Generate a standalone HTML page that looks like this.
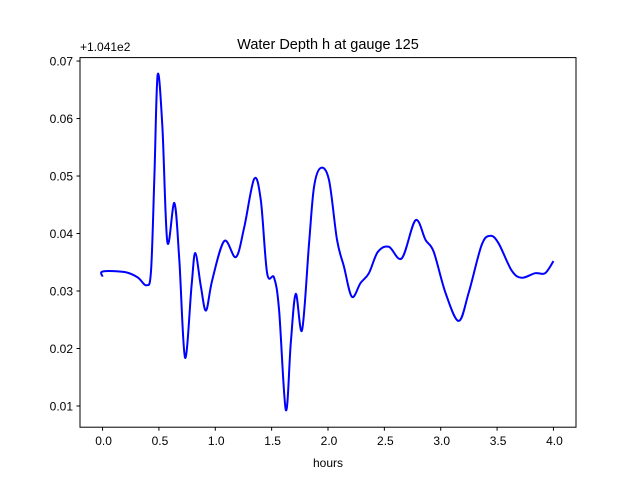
<!DOCTYPE html>
<html><head><meta charset="utf-8"><style>
body{margin:0;background:#fff}
svg{display:block;font-family:"Liberation Sans","DejaVu Sans",sans-serif}
</style></head><body>
<svg id="chart" width="640" height="480" viewBox="0 0 640 480">
<rect width="640" height="480" fill="#fff"/>
<text x="328" y="49" text-anchor="middle" font-size="14.5">Water Depth h at gauge 125</text>
<text x="80" y="51" font-size="12">+1.041e2</text>
<text x="328" y="467" text-anchor="middle" font-size="12">hours</text>
<g id="ticks"></g>
<path id="line" fill="none" stroke="#0000ff" stroke-width="2" stroke-linejoin="round"/>
<rect x="80" y="57.6" width="496" height="369.6" fill="none" stroke="#000" stroke-width="1"/>
</svg>
<script>
const hours=[0,0.002,0.195,0.31,0.39,0.43,0.46,0.489,0.531,0.575,0.637,0.681,0.732,0.79,0.823,0.873,0.918,0.973,1.08,1.183,1.257,1.345,1.404,1.46,1.522,1.566,1.626,1.67,1.714,1.77,1.832,1.876,1.935,2.009,2.08,2.142,2.212,2.289,2.363,2.442,2.54,2.655,2.776,2.865,2.938,3.042,3.159,3.248,3.363,3.44,3.513,3.628,3.717,3.838,3.926,4.0];
const depth=[0.0325,0.0334,0.0333,0.0324,0.0310,0.0335,0.0500,0.0676,0.0585,0.0385,0.0453,0.0354,0.0184,0.0310,0.0366,0.0307,0.0266,0.0319,0.0387,0.0359,0.0411,0.0495,0.0458,0.0331,0.0323,0.0267,0.0093,0.021,0.0295,0.0232,0.0383,0.0481,0.0514,0.0493,0.0389,0.0342,0.029,0.0314,0.0331,0.0368,0.0377,0.0357,0.0423,0.0389,0.0368,0.0297,0.0248,0.0297,0.038,0.0396,0.0383,0.0336,0.0323,0.0331,0.0331,0.0352];
const xTicks=[0,0.5,1,1.5,2,2.5,3,3.5,4];
const xTickLabels=["0.0","0.5","1.0","1.5","2.0","2.5","3.0","3.5","4.0"];
const yTicks=[0.01,0.02,0.03,0.04,0.05,0.06,0.07];
const yTickLabels=["0.01","0.02","0.03","0.04","0.05","0.06","0.07"];
const L=80,R=576,T=57.6,B=427.2,x0=-0.2,x1=4.2,y0=0.00631,y1=0.0706;
const sx=v=>L+(v-x0)/(x1-x0)*(R-L);
const sy=v=>B-(v-y0)/(y1-y0)*(B-T);
const NS="http://www.w3.org/2000/svg";
const g=document.getElementById('ticks');
function mk(t,a){const e=document.createElementNS(NS,t);for(const k in a)e.setAttribute(k,a[k]);return e;}
xTicks.forEach((v,i)=>{
 const l=mk('line',{x1:sx(v),x2:sx(v),y1:B,y2:B+3.5,stroke:'#000'});
 
 
 g.appendChild(l);
 const t=mk('text',{x:sx(v)+1,y:B+18,'text-anchor':'middle','font-size':'12'});
 
 
 t.textContent=xTickLabels[i];g.appendChild(t);
});
yTicks.forEach((v,i)=>{
 const l=mk('line',{x1:L-3.5,x2:L,y1:sy(v),y2:sy(v),stroke:'#000'});
 
 
 g.appendChild(l);
 const t=mk('text',{x:L-7,y:sy(v)+4.5,'text-anchor':'end','font-size':'12'});
 
 
 t.textContent=yTickLabels[i];g.appendChild(t);
});
const P=hours.map((h,i)=>[sx(h),sy(depth[i])]);
let d='M'+P[0][0]+','+P[0][1];
for(let i=0;i<P.length-1;i++){
 const p0=P[Math.max(0,i-1)],p1=P[i],p2=P[i+1],p3=P[Math.min(P.length-1,i+2)];
 const c1=[p1[0]+(p2[0]-p0[0])/6,p1[1]+(p2[1]-p0[1])/6];
 const c2=[p2[0]-(p3[0]-p1[0])/6,p2[1]-(p3[1]-p1[1])/6];
 d+=`C${c1[0]},${c1[1]} ${c2[0]},${c2[1]} ${p2[0]},${p2[1]}`;
}
document.getElementById('line').setAttribute('d',d);
</script>
</body></html>
